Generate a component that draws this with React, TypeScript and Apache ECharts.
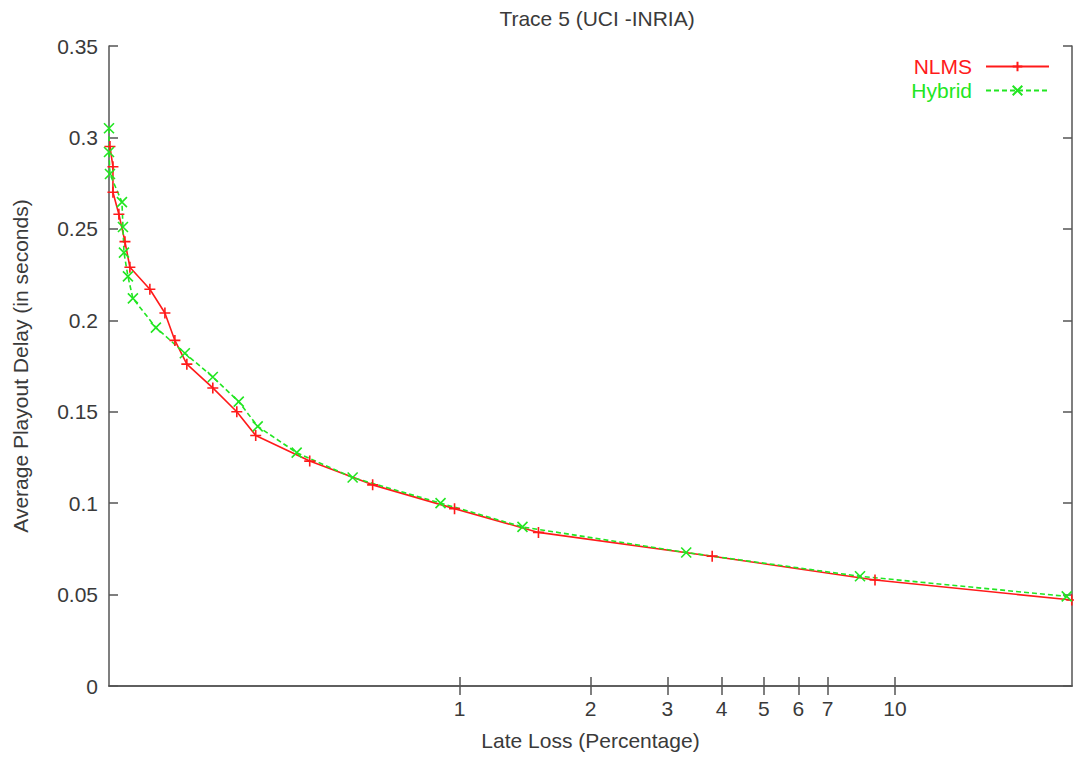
import React, { useEffect, useRef } from "react";
import * as echarts from "echarts";

const nlmsLoss = [0.1575, 0.16, 0.16, 0.1651, 0.1705, 0.175, 0.1945, 0.2106, 0.222, 0.2365, 0.2713, 0.308, 0.3404, 0.4529, 0.6317, 0.974, 1.518, 3.804, 8.998, 25.47];
const nlmsDelay = [0.295, 0.284, 0.27, 0.258, 0.243, 0.229, 0.217, 0.204, 0.189, 0.176, 0.163, 0.15, 0.137, 0.123, 0.11, 0.097, 0.084, 0.071, 0.058, 0.047];
const hybridLoss = [0.1567, 0.1567, 0.1575, 0.1678, 0.1687, 0.1696, 0.1732, 0.1778, 0.2008, 0.234, 0.2713, 0.3112, 0.344, 0.4227, 0.5683, 0.9045, 1.395, 3.316, 8.312, 24.8];
const hybridDelay = [0.305, 0.292, 0.28, 0.2646, 0.251, 0.237, 0.224, 0.212, 0.196, 0.182, 0.169, 0.1555, 0.142, 0.1276, 0.114, 0.1, 0.087, 0.073, 0.06, 0.049];
const xTicks = [1, 2, 3, 4, 5, 6, 7, 10];

const AXIS = "#555555";
const TEXT = "#3a3a3a";
const RED = "#ff1a1a";
const GREEN = "#22e622";
const FONT = "Liberation Sans, Arial, sans-serif";
const FS = 21;

export default function App() {
  const ref = useRef<HTMLDivElement>(null);
  useEffect(() => {
    if (!ref.current) return;
    const chart = echarts.init(ref.current, undefined, { renderer: "svg" });
    const xBase: any = {
      type: "log",
      logBase: 10,
      min: 0.1567,
      max: 25.5,
      axisLine: { show: true, lineStyle: { color: AXIS, width: 1.5 } },
      axisTick: { show: true, inside: true, length: 9, customValues: xTicks, lineStyle: { color: AXIS, width: 1.5 } },
      minorTick: { show: false },
      splitLine: { show: false },
    };
    const yBase: any = {
      type: "value",
      min: 0,
      max: 0.35,
      interval: 0.05,
      axisLine: { show: true, lineStyle: { color: AXIS, width: 1.5 } },
      axisTick: { show: true, inside: true, length: 9, lineStyle: { color: AXIS, width: 1.5 } },
      splitLine: { show: false },
    };
    chart.setOption({
      animation: false,
      backgroundColor: "#ffffff",
      textStyle: { fontFamily: FONT },
      title: {
        text: "Trace 5 (UCI -INRIA)",
        left: 592,
        textAlign: "center",
        top: 3,
        textStyle: { fontSize: FS, fontWeight: "normal", color: TEXT, fontFamily: FONT },
      },
      legend: {
        orient: "vertical",
        right: 19,
        top: 51,
        align: "right",
        itemWidth: 63,
        itemHeight: 12,
        itemGap: 3,
        textStyle: { fontSize: FS, fontFamily: FONT, padding: [0, 9, 0, 0] },
        data: [
          { name: "NLMS", textStyle: { color: RED } },
          { name: "Hybrid", textStyle: { color: GREEN } },
        ],
      },
      grid: { left: 109, right: 2, top: 46, bottom: 72, containLabel: false },
      xAxis: [
        {
          ...xBase,
          position: "bottom",
          name: "Late Loss (Percentage)",
          nameLocation: "middle",
          nameGap: 44,
          nameTextStyle: { fontSize: FS, color: TEXT, fontFamily: FONT },
          axisLabel: { show: true, customValues: xTicks, margin: 12, fontSize: FS, color: TEXT, fontFamily: FONT },
        },
        {
          ...xBase,
          position: "top",
          axisLabel: { show: false },
        },
      ],
      yAxis: [
        {
          ...yBase,
          position: "left",
          name: "Average Playout Delay (in seconds)",
          nameLocation: "middle",
          nameGap: 78,
          nameTextStyle: { fontSize: FS, color: TEXT, fontFamily: FONT },
          axisLabel: { show: true, margin: 11, fontSize: FS, color: TEXT, fontFamily: FONT },
        },
        {
          ...yBase,
          position: "right",
          axisLabel: { show: false },
        },
      ],
      series: [
        {
          name: "NLMS",
          type: "line",
          xAxisIndex: 0,
          yAxisIndex: 0,
          clip: false,
          data: nlmsLoss.map((x, i) => [x, nlmsDelay[i]]),
          lineStyle: { color: RED, width: 1.6 },
          symbol: "path://M0,-5L0,5M-5,0L5,0",
          symbolSize: 11,
          showAllSymbol: true,
          itemStyle: { color: "none", borderColor: RED, borderWidth: 1.6 },
        },
        {
          name: "Hybrid",
          type: "line",
          xAxisIndex: 0,
          yAxisIndex: 0,
          clip: false,
          data: hybridLoss.map((x, i) => [x, hybridDelay[i]]),
          lineStyle: { color: GREEN, width: 1.6, type: [5, 3] },
          symbol: "path://M-5,-5L5,5M-5,5L5,-5",
          symbolSize: 10,
          showAllSymbol: true,
          itemStyle: { color: "none", borderColor: GREEN, borderWidth: 1.6 },
        },
      ],
    });
    return () => chart.dispose();
  }, []);
  return <div ref={ref} style={{ position: "fixed", left: 0, top: 0, width: 1074, height: 758 }} />;
}
